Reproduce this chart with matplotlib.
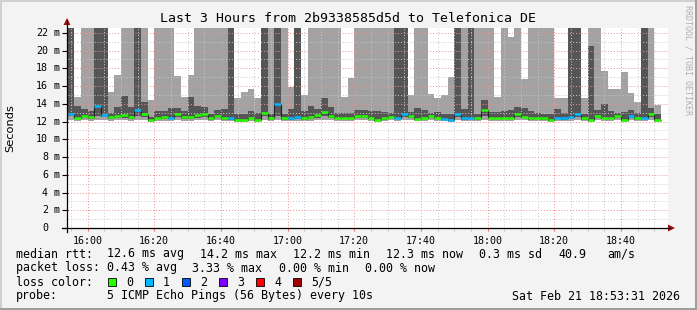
import numpy as np
import matplotlib
matplotlib.use("Agg")
import matplotlib.pyplot as plt
from matplotlib import transforms
from matplotlib.patches import Rectangle, Polygon

# ---------------- data (ms) ----------------
bar_start_min = -6      # 15:54, minutes relative to 16:00
bar_step_min = 2
TOP = 30.0              # value beyond the visible range (clipped)

ping5 = [TOP, 14.8, TOP, TOP, TOP, TOP, 15.3, 17.2, TOP, TOP,
         TOP, TOP, 14.4, TOP, TOP, TOP, 17.1, 14.8, 17.2, TOP,
         TOP, TOP, TOP, TOP, TOP, 14.7, 15.3, 15.7, 14.6, TOP,
         TOP, TOP, TOP, 15.9, TOP, 15.0, TOP, TOP, TOP, TOP,
         TOP, 14.8, 16.9, TOP, TOP, TOP, TOP, TOP, TOP, TOP,
         TOP, 15.0, TOP, TOP, 15.1, 14.6, 15.0, 17.0, TOP, TOP,
         TOP, TOP, TOP, TOP, 14.8, TOP, 21.55, TOP, 16.8, TOP,
         TOP, TOP, TOP, 14.7, 14.7, TOP, TOP, 14.7, TOP, TOP,
         17.7, 15.7, 15.7, 17.6, 15.2, 14.2, TOP, TOP, 13.9]
ping4 = [TOP, 13.7, 13.4, 13.2, TOP, TOP, 13.0, 13.65, 14.9, 13.65,
         TOP, 14.2, 12.5, 13.2, 13.2, 13.5, 13.55, 13.2, 14.8, 13.7,
         13.65, 12.9, 13.3, 13.4, TOP, 12.8, 12.9, 13.2, 13.0, TOP,
         12.8, TOP, 12.9, 13.4, TOP, 13.2, 13.8, 13.4, 14.7, 13.65,
         13.0, 13.0, 13.0, 13.3, 13.3, 13.2, 13.2, 13.1, 13.0, TOP,
         TOP, 13.1, 13.5, 13.3, 13.0, 13.1, 12.8, 12.9, TOP, 13.4,
         TOP, 12.8, 14.4, 13.1, 13.1, 13.2, 13.3, 13.65, 13.55, 13.2,
         13.0, 12.8, 12.8, 13.4, 13.0, TOP, TOP, 12.8, 20.5, 13.3,
         14.0, 13.2, 13.0, 13.1, 13.3, 13.0, TOP, 13.5, 12.9]
median = [12.9, 12.4, 12.6, 12.5, 13.8, 12.7, 12.5, 12.6, 12.7, 12.5,
          13.3, 12.8, 12.2, 12.4, 12.5, 12.4, 12.85, 12.5, 12.5, 12.7,
          12.8, 12.35, 12.6, 12.35, 12.35, 12.2, 12.2, 12.4, 12.2, 13.0,
          12.35, 14.0, 12.35, 12.35, 12.5, 12.35, 12.5, 12.7, 13.1, 12.65,
          12.4, 12.4, 12.4, 12.6, 12.6, 12.4, 12.2, 12.35, 12.55, 12.4,
          12.8, 12.6, 12.3, 12.4, 12.6, 12.4, 12.3, 12.2, 12.8, 12.35,
          12.4, 12.35, 13.25, 12.45, 12.45, 12.45, 12.45, 12.8, 12.55, 12.35,
          12.4, 12.35, 12.2, 12.45, 12.35, 12.55, 12.8, 12.35, 12.2, 12.65,
          12.45, 12.45, 12.65, 12.2, 12.65, 12.35, 12.45, 12.8, 12.2]
ping2 = [12.6, 12.25, 12.35, 12.3, 12.6, 12.5, 12.3, 12.4, 12.45, 12.3,
         12.6, 12.5, 12.1, 12.25, 12.3, 12.25, 12.5, 12.3, 12.3, 12.45,
         12.5, 12.2, 12.35, 12.2, 12.2, 12.1, 12.1, 12.25, 12.1, 12.6,
         12.2, 12.6, 12.2, 12.2, 12.3, 12.2, 12.3, 12.45, 12.6, 12.4,
         12.25, 12.25, 12.25, 12.4, 12.4, 12.25, 12.1, 12.2, 12.35, 12.25,
         12.5, 12.4, 12.15, 12.25, 12.4, 12.25, 12.15, 12.1, 12.5, 12.2,
         12.25, 12.2, 12.6, 12.3, 12.3, 12.3, 12.3, 12.5, 12.35, 12.2,
         12.25, 12.2, 12.1, 12.3, 12.2, 12.35, 12.5, 12.2, 12.1, 12.4,
         12.3, 12.3, 12.4, 12.1, 12.4, 12.2, 12.3, 12.5, 12.1]
ping1 = [12.2, 12.1, 12.15, 12.1, 12.2, 12.15, 12.1, 12.15, 12.2, 12.1,
         12.2, 12.2, 12.0, 12.1, 12.1, 12.1, 12.2, 12.1, 12.1, 12.15,
         12.2, 12.05, 12.15, 12.05, 12.05, 12.0, 12.0, 12.1, 12.0, 12.2,
         12.05, 12.2, 12.05, 12.05, 12.1, 12.05, 12.1, 12.15, 12.2, 12.15,
         12.1, 12.1, 12.1, 12.15, 12.15, 12.1, 12.0, 12.05, 12.15, 12.1,
         12.2, 12.15, 12.05, 12.1, 12.15, 12.1, 12.05, 12.0, 12.2, 12.05,
         12.1, 12.05, 12.2, 12.1, 12.1, 12.1, 12.1, 12.2, 12.15, 12.05,
         12.1, 12.05, 12.0, 12.1, 12.05, 12.1, 12.2, 12.05, 12.0, 12.15,
         12.1, 12.1, 12.15, 12.0, 12.15, 12.05, 12.1, 12.2, 12.0]
loss = [1, 0, 0, 0, 1, 1, 0, 0, 0, 0,
        1, 0, 0, 0, 0, 1, 0, 0, 0, 0,
        0, 0, 0, 0, 1, 0, 0, 0, 0, 0,
        0, 1, 0, 1, 1, 0, 0, 0, 0, 0,
        0, 0, 0, 0, 0, 0, 0, 0, 0, 1,
        1, 0, 0, 0, 0, 0, 1, 1, 1, 1,
        1, 0, 0, 0, 0, 0, 0, 0, 0, 0,
        0, 0, 0, 1, 1, 1, 1, 0, 0, 0,
        0, 0, 0, 0, 1, 0, 1, 0, 0]

xtick_minutes = [0, 20, 40, 60, 80, 100, 120, 140, 160]
xtick_labels = ["16:00", "16:20", "16:40", "17:00", "17:20", "17:40", "18:00", "18:20", "18:40"]
ytick_values = [0, 2, 4, 6, 8, 10, 12, 14, 16, 18, 20, 22]

loss_labels = ["0", "1", "2", "3", "4", "5/5"]
loss_colors = ["#26ff00", "#00b8ff", "#0059ff", "#7e00ff", "#ff0000", "#a10000"]

title = "Last 3 Hours from 2b9338585d5d to Telefonica DE"
row1 = [("median rtt:", 16), ("12.6 ms avg", 107), ("14.2 ms max", 200), ("12.2 ms min", 293),
        ("12.3 ms now", 386), ("0.3 ms sd", 479), ("40.9", 558), ("am/s", 607)]
row2 = [("packet loss:", 16), ("0.43 % avg", 107), ("3.33 % max", 192), ("0.00 % min", 279),
        ("0.00 % now", 365)]
probe_text = "5 ICMP Echo Pings (56 Bytes) every 10s"
stamp = "Sat Feb 21 18:53:31 2026"

# ---------------- figure ----------------
W, H = 697, 310
MONO = "DejaVu Sans Mono"
fig = plt.figure(figsize=(W / 100, H / 100), dpi=100)
fig.patch.set_facecolor("#f3f3f3")

def fx(px):
    return px / W

def fy(py):
    return 1 - py / H

# 3D frame
fig.add_artist(Rectangle((0, fy(2)), 1, 2 / H, transform=fig.transFigure, color="#d0d0d0", lw=0))
fig.add_artist(Rectangle((0, 0), 2 / W, 1, transform=fig.transFigure, color="#d0d0d0", lw=0))
fig.add_artist(Rectangle((0, 0), 1, 2 / H, transform=fig.transFigure, color="#9e9e9e", lw=0))
fig.add_artist(Rectangle((fx(695), 0), 2 / W, 1, transform=fig.transFigure, color="#9e9e9e", lw=0))

ax_l, ax_r, ax_t, ax_b = 67.5, 667.5, 27.5, 228
ax = fig.add_axes([fx(ax_l), fy(ax_b), (ax_r - ax_l) / W, (ax_b - ax_t) / H])
ax.set_facecolor("white")
n = len(median)
edges = bar_start_min + bar_step_min * np.arange(n + 1)
ax.set_xlim(-6, 174)
ax.set_ylim(0, 22.6)

light = "#a2a2a2"
dark = "#555555"
ax.stairs(ping5, edges, baseline=ping1, fill=True, color=light, lw=0, zorder=1)
ax.stairs(ping4, edges, baseline=ping2, fill=True, color=dark, lw=0, zorder=1.1)
ax.stairs(median, edges, baseline=None, color="#202020", lw=0.8, zorder=3)
ax.hlines(median, edges[:-1], edges[1:], colors=[loss_colors[l] for l in loss], lw=1.8, zorder=4)

# grid
ax.set_xticks(xtick_minutes)
ax.set_xticks(np.arange(-5, 174, 5), minor=True)
ax.set_yticks(ytick_values)
ax.set_yticks(np.arange(0, 22.6, 1), minor=True)
ax.set_axisbelow(False)
ax.grid(which="minor", color="#c8c8c8", ls=(0, (1, 2)), lw=0.7)
ax.grid(which="major", color="#f09090", ls=(0, (1, 2)), lw=0.7)
for s in ax.spines.values():
    s.set_visible(False)
ax.set_xticklabels(xtick_labels, fontfamily=MONO, fontsize=7.2)
ax.tick_params(axis="x", which="major", length=2.5, color="#e07070", pad=3)
ax.tick_params(axis="x", which="minor", length=2, color="#c0c0c0")
ax.tick_params(axis="y", which="major", length=4, color="black", labelleft=False)
ax.tick_params(axis="y", which="minor", length=0)

# y labels (number + unit)
ytr = transforms.blended_transform_factory(fig.transFigure, ax.transData)
for v in ytick_values:
    ax.text(fx(48), v, str(v), transform=ytr, ha="right", va="center",
            fontfamily=MONO, fontsize=7.2, clip_on=False)
    if v != 0:
        ax.text(fx(54), v, "m", transform=ytr, ha="left", va="center",
                fontfamily=MONO, fontsize=7.2, clip_on=False)

# axes lines with arrows
fig.add_artist(plt.Line2D([fx(62), fx(670)], [fy(228), fy(228)], transform=fig.transFigure,
                          color="black", lw=0.9))
fig.add_artist(plt.Line2D([fx(67), fx(67)], [fy(232), fy(20)], transform=fig.transFigure,
                          color="black", lw=0.9))
fig.add_artist(Polygon([[fx(668), fy(224.5)], [fx(675), fy(228)], [fx(668), fy(231.5)]],
                       closed=True, transform=fig.transFigure, color="#a01010", lw=0))
fig.add_artist(Polygon([[fx(63.5), fy(25)], [fx(67), fy(18)], [fx(70.5), fy(25)]],
                       closed=True, transform=fig.transFigure, color="#a01010", lw=0))

# texts
fig.text(fx(348), fy(19), title, ha="center", va="center", fontfamily=MONO, fontsize=9.5)
fig.text(fx(10), fy(128), "Seconds", ha="center", va="center", rotation=90,
         fontfamily="DejaVu Sans", fontsize=8.2)
fig.text(fx(688), fy(5), "RRDTOOL / TOBI OETIKER", ha="center", va="top", rotation=270,
         fontfamily=MONO, fontsize=6, color="#b0b0b0")

LF = 8.4
for txt, x in row1:
    fig.text(fx(x), fy(254), txt, ha="left", va="center", fontfamily=MONO, fontsize=LF)
for txt, x in row2:
    fig.text(fx(x), fy(268), txt, ha="left", va="center", fontfamily=MONO, fontsize=LF)
fig.text(fx(16), fy(282), "loss color:", ha="left", va="center", fontfamily=MONO, fontsize=LF)
for i, (lab, col) in enumerate(zip(loss_labels, loss_colors)):
    x0 = 108 + 37 * i
    fig.add_artist(Rectangle((fx(x0), fy(286)), 8 / W, 8 / H, transform=fig.transFigure,
                             facecolor=col, edgecolor="black", lw=0.6))
    fig.text(fx(x0 + 18), fy(282), lab, ha="left", va="center", fontfamily=MONO, fontsize=LF)
fig.text(fx(16), fy(296), "probe:", ha="left", va="center", fontfamily=MONO, fontsize=LF)
fig.text(fx(107), fy(296), probe_text, ha="left", va="center", fontfamily=MONO, fontsize=LF)
fig.text(fx(680), fy(296), stamp, ha="right", va="center", fontfamily=MONO, fontsize=LF)

fig.savefig("out.png", dpi=100, facecolor=fig.get_facecolor())
